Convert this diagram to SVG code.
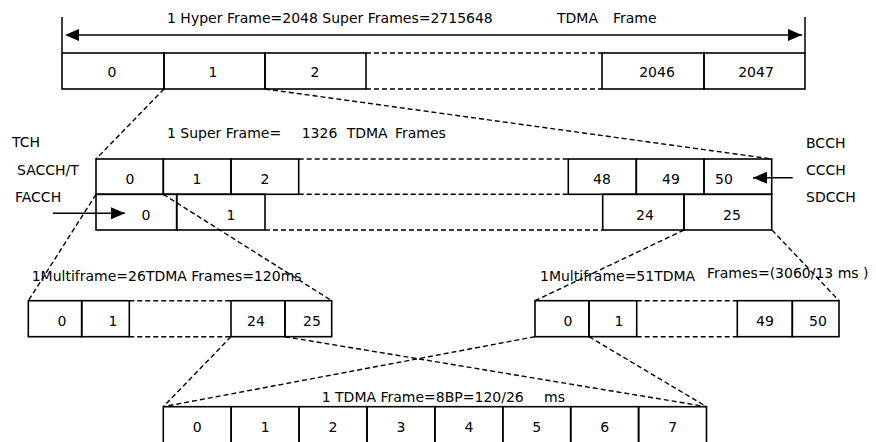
<svg xmlns="http://www.w3.org/2000/svg" width="876" height="442" viewBox="0 0 876 442">
<style>
text{font-family:"DejaVu Sans","Liberation Sans",sans-serif;font-size:14px;fill:#000}
.c{text-anchor:middle}
.box{fill:none;stroke:#000;stroke-width:1.6}
.sl{stroke:#000;stroke-width:1.5;fill:none}
.dl{stroke:#000;stroke-width:1.4;stroke-dasharray:5 3;fill:none}
</style>
<defs>
<marker id="ah" markerWidth="14" markerHeight="12" refX="14" refY="6" orient="auto" markerUnits="userSpaceOnUse">
<path d="M0,0 L14,6 L0,12 Z" fill="#000"/>
</marker>
</defs>
<rect width="876" height="442" fill="#fff"/>

<g id="connectors">
<line class="dl" x1="164" y1="89" x2="96" y2="159"/>
<line class="dl" x1="265" y1="89" x2="772" y2="159"/>
<line class="dl" x1="96" y1="194.3" x2="28.3" y2="300.7"/>
<line class="dl" x1="163.3" y1="194.3" x2="331.7" y2="300.7"/>
<line class="dl" x1="684" y1="230" x2="535" y2="300.7"/>
<line class="dl" x1="772" y1="230" x2="839" y2="300.7"/>
<line class="dl" x1="231" y1="336.7" x2="163.3" y2="406.7"/>
<line class="dl" x1="285" y1="336.7" x2="706.5" y2="406.7"/>
<line class="dl" x1="535" y1="336.7" x2="163.3" y2="406.7"/>
<line class="dl" x1="589" y1="336.7" x2="706.5" y2="406.7"/>
</g>

<g id="hyperframe">
<line class="sl" x1="62" y1="17" x2="62" y2="53"/>
<line class="sl" x1="805" y1="17" x2="805" y2="53"/>
<line class="sl" x1="78" y1="35" x2="802" y2="35" marker-end="url(#ah)"/>
<path d="M65,35 L79,29 L79,41 Z" fill="#000"/>
<text x="167" y="23">1 Hyper Frame=2048 Super Frames=2715648<tspan x="557">TDMA</tspan><tspan x="613">Frame</tspan></text>
<rect class="box" x="62" y="53" width="102" height="36"/>
<rect class="box" x="164" y="53" width="101" height="36"/>
<rect class="box" x="265" y="53" width="101" height="36"/>
<line class="dl" x1="366" y1="53" x2="602" y2="53"/>
<line class="dl" x1="366" y1="89" x2="602" y2="89"/>
<rect class="box" x="602" y="53" width="102" height="36"/>
<rect class="box" x="704" y="53" width="101" height="36"/>
<text class="c" x="112" y="77">0</text>
<text class="c" x="213" y="77">1</text>
<text class="c" x="315" y="77">2</text>
<text class="c" x="657" y="77">2046</text>
<text class="c" x="756" y="77">2047</text>
</g>

<g id="superframe">
<text x="167" y="138">1 Super Frame=<tspan x="301.7">1326</tspan><tspan x="346.7">TDMA</tspan><tspan x="395">Frames</tspan></text>
<rect class="box" x="96" y="159" width="67.3" height="35.3"/>
<rect class="box" x="163.3" y="159" width="67.7" height="35.3"/>
<rect class="box" x="231" y="159" width="67.7" height="35.3"/>
<line class="dl" x1="298.7" y1="159" x2="568.3" y2="159"/>
<line class="dl" x1="298.7" y1="194.3" x2="568.3" y2="194.3"/>
<rect class="box" x="568.3" y="159" width="68" height="35.3"/>
<rect class="box" x="636.3" y="159" width="67.7" height="35.3"/>
<rect class="box" x="704" y="159" width="67.7" height="35.3"/>
<rect class="box" x="96" y="194.3" width="80.7" height="35.7"/>
<rect class="box" x="176.7" y="194.3" width="88.3" height="35.7"/>
<line class="dl" x1="265" y1="230" x2="602.7" y2="230"/>
<rect class="box" x="602.7" y="194.3" width="81.3" height="35.7"/>
<rect class="box" x="684" y="194.3" width="87.7" height="35.7"/>
<text class="c" x="130" y="184">0</text>
<text class="c" x="197" y="184">1</text>
<text class="c" x="265" y="184">2</text>
<text class="c" x="602" y="184">48</text>
<text class="c" x="671" y="184">49</text>
<text class="c" x="724" y="184">50</text>
<text class="c" x="146" y="220">0</text>
<text class="c" x="231" y="220">1</text>
<text class="c" x="645" y="220">24</text>
<text class="c" x="732" y="220">25</text>
<line class="sl" x1="792.7" y1="177.7" x2="753" y2="177.7" marker-end="url(#ah)"/>
<line class="sl" x1="53" y1="213.3" x2="125" y2="213.3" marker-end="url(#ah)"/>
</g>

<g id="labels-left">
<text x="12" y="147">TCH</text>
<text x="17" y="175">SACCH/T</text>
<text x="15" y="202">FACCH</text>
</g>

<g id="labels-right">
<text x="806" y="148">BCCH</text>
<text x="806" y="175">CCCH</text>
<text x="806" y="202">SDCCH</text>
</g>

<g id="multiframe26">
<text x="31.7" y="281">1Multiframe=26TDMA Frames=120ms</text>
<rect class="box" x="28.3" y="300.7" width="53.4" height="36"/>
<rect class="box" x="81.7" y="300.7" width="47.6" height="36"/>
<line class="dl" x1="129.3" y1="300.7" x2="231" y2="300.7"/>
<line class="dl" x1="129.3" y1="336.7" x2="231" y2="336.7"/>
<rect class="box" x="231" y="300.7" width="54" height="36"/>
<rect class="box" x="285" y="300.7" width="46.7" height="36"/>
<text class="c" x="62" y="326">0</text>
<text class="c" x="113" y="326">1</text>
<text class="c" x="256" y="326">24</text>
<text class="c" x="312" y="326">25</text>
</g>

<g id="multiframe51">
<text x="540" y="281">1Multiframe=51TDMA</text>
<text x="707" y="278">Frames=(3060/13 ms )</text>
<rect class="box" x="535" y="300.7" width="54" height="36"/>
<rect class="box" x="589" y="300.7" width="47.7" height="36"/>
<line class="dl" x1="636.7" y1="300.7" x2="737.3" y2="300.7"/>
<line class="dl" x1="636.7" y1="336.7" x2="737.3" y2="336.7"/>
<rect class="box" x="737.3" y="300.7" width="55" height="36"/>
<rect class="box" x="792.3" y="300.7" width="46.7" height="36"/>
<text class="c" x="568" y="326">0</text>
<text class="c" x="619" y="326">1</text>
<text class="c" x="765" y="326">49</text>
<text class="c" x="818" y="326">50</text>
</g>

<g id="tdmaframe">
<text x="321.7" y="401.7">1 TDMA Frame=8BP=120/26<tspan x="544">ms</tspan></text>
<rect class="box" x="163.3" y="406.7" width="67.9" height="40"/>
<rect class="box" x="231.2" y="406.7" width="67.9" height="40"/>
<rect class="box" x="299.1" y="406.7" width="67.9" height="40"/>
<rect class="box" x="367" y="406.7" width="67.9" height="40"/>
<rect class="box" x="434.9" y="406.7" width="67.9" height="40"/>
<rect class="box" x="502.8" y="406.7" width="67.9" height="40"/>
<rect class="box" x="570.7" y="406.7" width="67.9" height="40"/>
<rect class="box" x="638.6" y="406.7" width="67.9" height="40"/>
<text class="c" x="197.3" y="432">0</text>
<text class="c" x="265.2" y="432">1</text>
<text class="c" x="333" y="432">2</text>
<text class="c" x="401" y="432">3</text>
<text class="c" x="468.9" y="432">4</text>
<text class="c" x="536.8" y="432">5</text>
<text class="c" x="604.7" y="432">6</text>
<text class="c" x="672.6" y="432">7</text>
</g>
</svg>
